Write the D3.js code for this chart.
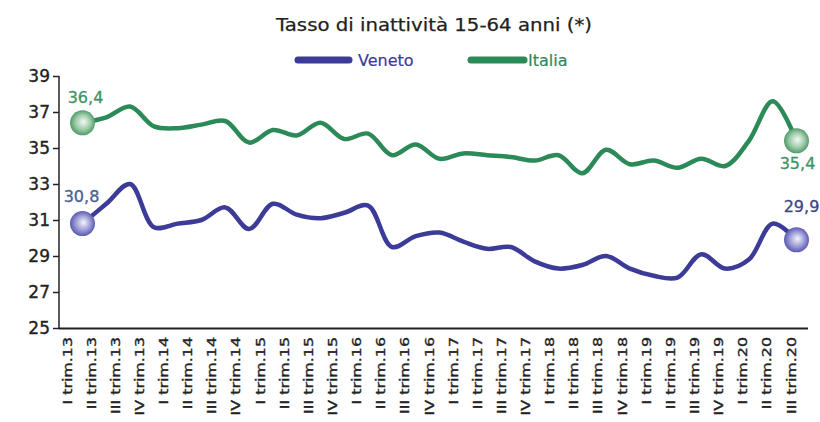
<!DOCTYPE html>
<html>
<head>
<meta charset="utf-8">
<script src="https://cdn.jsdelivr.net/npm/d3@7"></script>
<style>
  body { margin: 0; background: #fff; }
  svg text { font-family: "DejaVu Sans", sans-serif; }
</style>
</head>
<body>
<div id="chart"></div>
<script>
(function() {
"use strict"

var width = 820, height = 422;

// quarters I trim.13 .. III trim.20
var categories = ["I trim.13","II trim.13","III trim.13","IV trim.13",
    "I trim.14","II trim.14","III trim.14","IV trim.14",
    "I trim.15","II trim.15","III trim.15","IV trim.15",
    "I trim.16","II trim.16","III trim.16","IV trim.16",
    "I trim.17","II trim.17","III trim.17","IV trim.17",
    "I trim.18","II trim.18","III trim.18","IV trim.18",
    "I trim.19","II trim.19","III trim.19","IV trim.19",
    "I trim.20","II trim.20","III trim.20"];

var veneto = [30.8, 31.9, 33.0, 30.6, 30.8, 31.0, 31.7, 30.5, 31.9, 31.3, 31.1, 31.4,
    31.8, 29.5, 30.1, 30.3, 29.8, 29.4, 29.5, 28.7, 28.3, 28.5, 29.0, 28.3,
    27.9, 27.8, 29.1, 28.3, 28.8, 30.8, 29.9];
var italia = [36.4, 36.7, 37.3, 36.2, 36.1, 36.3, 36.5, 35.3, 36.0, 35.7, 36.4, 35.5,
    35.8, 34.6, 35.2, 34.4, 34.7, 34.6, 34.5, 34.3, 34.6, 33.6, 34.9, 34.1,
    34.3, 33.9, 34.4, 34.0, 35.4, 37.6, 35.4];

var yTicks = [25, 27, 29, 31, 33, 35, 37, 39];
var title = "Tasso di inattività 15-64 anni (*)";
var seriesNames = ["Veneto", "Italia"];

var colVeneto = "#3c3b98", colItalia = "#2b8a57";

var svg = d3.select("#chart").append("svg")
    .attr("width", width)
    .attr("height", height);

var defs = svg.append("defs");
function grad(id, light, mid, dark) {
    var g = defs.append("radialGradient").attr("id", id)
        .attr("cx", "50%").attr("cy", "50%").attr("r", "55%")
        .attr("fx", "55%").attr("fy", "45%");
    g.append("stop").attr("offset", "0%").attr("stop-color", light);
    g.append("stop").attr("offset", "55%").attr("stop-color", mid);
    g.append("stop").attr("offset", "100%").attr("stop-color", dark);
}
grad("gV", "#f4f4fc", "#9a9ad6", "#4a4aa6");
grad("gI", "#f4faf6", "#9dcaa9", "#3e8e5a");

// scales
var x = d3.scalePoint().domain(categories).range([82.5, 796.5]);
var xLab = d3.scalePoint().domain(categories).range([66.5, 790.5]);
var y = d3.scaleLinear().domain([25, 39]).range([328, 76]);

// title
svg.append("text")
    .attr("x", 276).attr("y", 31)
    .attr("textLength", 316).attr("lengthAdjust", "spacingAndGlyphs")
    .style("font-size", "18px")
    .style("fill", "#222")
    .style("stroke", "#222").style("stroke-width", 0.25)
    .text(title);

// legend
var legend = [{name: seriesNames[0], col: colVeneto, x1: 298, x2: 349, tx: 358},
              {name: seriesNames[1], col: colItalia, x1: 471, x2: 524, tx: 528}];
legend.forEach(function(l) {
    svg.append("line")
        .attr("x1", l.x1).attr("x2", l.x2)
        .attr("y1", 60).attr("y2", 60)
        .style("stroke", l.col).style("stroke-width", 7)
        .style("stroke-linecap", "round");
    svg.append("text")
        .attr("x", l.tx).attr("y", 66)
        .style("font-size", "16px")
        .style("fill", l.col)
        .style("stroke", l.col).style("stroke-width", 0.2)
        .text(l.name);
});

// y axis
var yAxis = svg.append("g")
    .attr("transform", "translate(59,0)")
    .call(d3.axisLeft(y).tickValues(yTicks).tickSize(6).tickPadding(3));
yAxis.select(".domain").style("stroke", "#222").style("stroke-width", 1.5)
    .attr("d", "M0," + y(39) + "V" + y(25));
yAxis.selectAll(".tick line").style("stroke", "#222").style("stroke-width", 1.5);
yAxis.selectAll(".tick text")
    .style("font-family", "DejaVu Sans, sans-serif")
    .style("font-size", "17px")
    .style("fill", "#222")
    .style("stroke", "#222").style("stroke-width", 0.35);

// x axis
var xAxis = svg.append("g")
    .attr("transform", "translate(0," + y(25) + ")")
    .call(d3.axisBottom(xLab).tickSize(0).tickPadding(0));
xAxis.select(".domain").style("stroke", "#222").style("stroke-width", 2)
    .attr("d", "M59,0.5H808");
xAxis.selectAll(".tick text")
    .style("font-family", "DejaVu Sans, sans-serif")
    .style("font-size", "13px")
    .style("fill", "#222")
    .style("stroke", "#222").style("stroke-width", 0.35)
    .style("text-anchor", "end")
    .attr("dy", "0.35em")
    .attr("x", 0).attr("y", 0)
    .attr("transform", "translate(0,9) rotate(-90) scale(1.22,1)");

// lines
var line = d3.line()
    .x(function(d, i) { return x(categories[i]); })
    .y(function(d) { return y(d); })
    .curve(d3.curveCatmullRom.alpha(0.5));

[[italia, colItalia], [veneto, colVeneto]].forEach(function(s) {
    svg.append("path")
        .datum(s[0])
        .attr("d", line)
        .style("fill", "none")
        .style("stroke", s[1])
        .style("stroke-width", 4.5)
        .style("stroke-linejoin", "round");
});

// end markers
var last = categories.length - 1;
var markers = [
    {v: italia[0], c: categories[0], g: "gI"},
    {v: italia[last], c: categories[last], g: "gI"},
    {v: veneto[0], c: categories[0], g: "gV"},
    {v: veneto[last], c: categories[last], g: "gV"}
];
svg.selectAll("circle.mk").data(markers).enter().append("circle")
    .attr("class", "mk")
    .attr("cx", function(d) { return x(d.c); })
    .attr("cy", function(d) { return y(d.v); })
    .attr("r", 12.5)
    .style("fill", function(d) { return "url(#" + d.g + ")"; });

// value labels
function fmt(v) { return v.toFixed(1).replace(".", ","); }
var labels = [
    {v: italia[0], c: categories[0], dx: 3, dy: -20, col: "#3e9366"},
    {v: veneto[0], c: categories[0], dx: -1, dy: -22, col: "#4a5f94"},
    {v: italia[last], c: categories[last], dx: 1, dy: 28, col: "#3e9366"},
    {v: veneto[last], c: categories[last], dx: 5, dy: -28, col: "#3a4686"}
];
svg.selectAll("text.vl").data(labels).enter().append("text")
    .attr("class", "vl")
    .attr("x", function(d) { return x(d.c) + d.dx; })
    .attr("y", function(d) { return y(d.v) + d.dy; })
    .style("text-anchor", "middle")
    .style("font-size", "16px")
    .style("fill", function(d) { return d.col; })
    .style("stroke", function(d) { return d.col; }).style("stroke-width", 0.3)
    .text(function(d) { return fmt(d.v); });

})();
</script>
</body>
</html>
